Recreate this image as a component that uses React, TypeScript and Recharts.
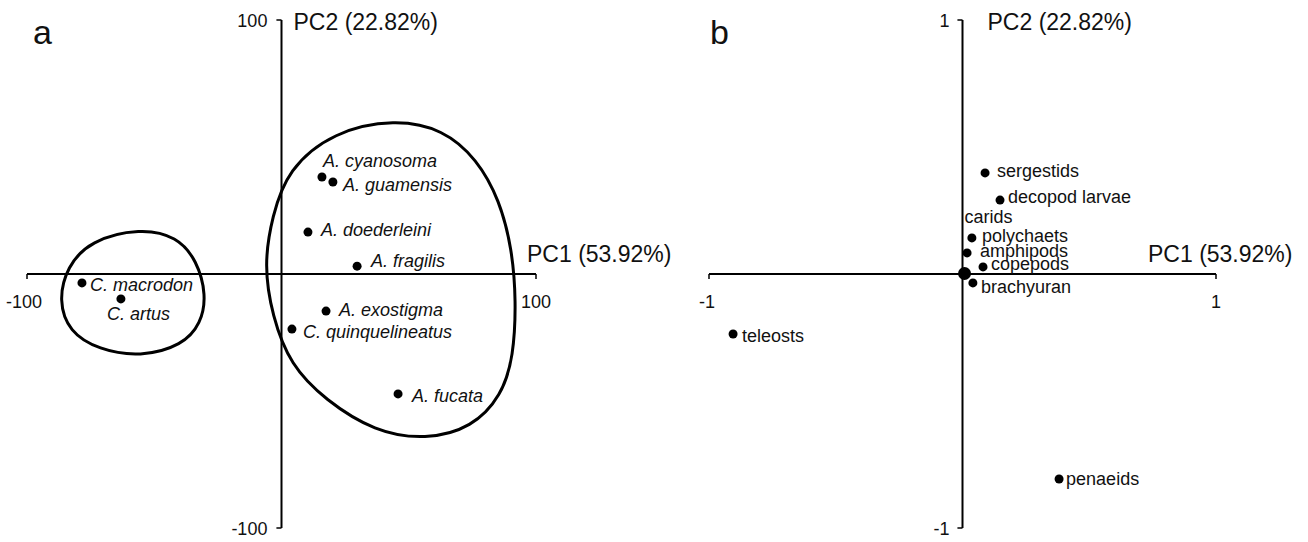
import { ScatterChart, Scatter, XAxis, YAxis, ReferenceLine } from 'recharts'

// panel a: fish species scores
const speciesNames = [
  'A. cyanosoma',
  'A. guamensis',
  'A. doederleini',
  'A. fragilis',
  'C. macrodon',
  'C. artus',
  'A. exostigma',
  'C. quinquelineatus',
  'A. fucata',
]
const speciesPC1 = [15.9, 20.2, 10.4, 29.7, -78.4, -63.1, 17.5, 4.1, 45.8]
const speciesPC2 = [38.2, 36.2, 16.5, 3.1, -3.5, -9.8, -14.6, -21.7, -47.2]

// outline of the two groups (hull control points, PC1 / PC2 units)
const groupLeftPC1 = [-55.4, -41.1, -33.2, -29.5, -31.6, -38.9, -55.4, -71.9, -83.5, -87.6, -84.3, -75.2]
const groupLeftPC2 = [18.1, 14.8, 5.3, -8.3, -19.5, -28.1, -32.7, -29.8, -22.8, -10.4, 2.8, 13.2]
const groupRightPC1 = [44.6, 63.5, 76.8, 85.7, 90.6, 92.2, 91.2, 86.5, 74.9, 56.7, 36.6, 17.2, 3.5, -3.7, -6.9, -3.7, 2.4, 20.5]
const groupRightPC2 = [61.0, 57.0, 45.3, 29.1, 9.8, -10.4, -32.6, -47.9, -60.5, -65.3, -62.1, -49.6, -35.9, -16.5, 3.7, 22.6, 41.2, 56.1]

// panel b: prey loadings
const preyNames = [
  'sergestids',
  'decopod larvae',
  'carids',
  'polychaets',
  'amphipods',
  'copepods',
  'brachyuran',
  'teleosts',
  'penaeids',
]
const preyPC1 = [0.089, 0.148, 0.008, 0.037, 0.018, 0.081, 0.041, -0.905, 0.381]
const preyPC2 = [0.398, 0.291, 0.002, 0.142, 0.083, 0.028, -0.035, -0.236, -0.807]

const pc1Title = 'PC1 (53.92%)'
const pc2Title = 'PC2 (22.82%)'

// label placement, px from the dot (x of text start, baseline)
const speciesLabelPos: Record<string, [number, number]> = {
  'A. cyanosoma': [1, -10],
  'A. guamensis': [10, 9],
  'A. doederleini': [13, 4],
  'A. fragilis': [14, 1],
  'C. macrodon': [8, 8],
  'C. artus': [-14, 21],
  'A. exostigma': [13, 5],
  'C. quinquelineatus': [11, 9],
  'A. fucata': [14, 8],
}
const preyLabelPos: Record<string, [number, number]> = {
  sergestids: [12, 4],
  'decopod larvae': [8, 3],
  carids: [0, -50],
  polychaets: [10, 4],
  amphipods: [13, 4],
  copepods: [8, 3],
  brachyuran: [8, 10],
  teleosts: [9, 8],
  penaeids: [7, 6],
}
// several loadings pile up at the origin, drawn as one bigger blob
const dotRadius: Record<string, number> = { carids: 6.5 }

const FONT = '"Liberation Sans", Arial, Helvetica, sans-serif'

const zip = (names: string[], xs: number[], ys: number[]) =>
  xs.map((x, i) => ({ name: names[i], x, y: ys[i] }))
const outline = (xs: number[], ys: number[]) => xs.map((x, i) => ({ x, y: ys[i] }))

const speciesData = zip(speciesNames, speciesPC1, speciesPC2)
const preyData = zip(preyNames, preyPC1, preyPC2)
const leftGroup = outline(groupLeftPC1, groupLeftPC2)
const rightGroup = outline(groupRightPC1, groupRightPC2)

const labelledDot = (pos: Record<string, [number, number]>, italic: boolean) => (props: any) => {
  const { cx, cy, payload } = props
  const [dx, dy] = pos[payload.name] ?? [10, 5]
  return (
    <g>
      <circle cx={cx} cy={cy} r={dotRadius[payload.name] ?? 4.5} fill="#000" />
      <text
        x={cx + dx}
        y={cy + dy}
        fontSize={18}
        fontFamily={FONT}
        fontStyle={italic ? 'italic' : 'normal'}
        fill="#111"
      >
        {payload.name}
      </text>
    </g>
  )
}

const txt = (text: string, dx: number, dy: number, anchor: string, size = 18) => (props: any) => {
  const vb = props.viewBox || {}
  return (
    <text
      x={(vb.x ?? 0) + dx}
      y={(vb.y ?? 0) + dy}
      textAnchor={anchor}
      fontSize={size}
      fontFamily={FONT}
      fill="#111"
    >
      {text}
    </text>
  )
}

const noDot = () => <g />

function PanelA() {
  const t = 2 // tick length in axis units
  return (
    <ScatterChart width={700} height={542} margin={{ top: 20, right: 164, bottom: 14, left: 27 }}>
      <XAxis type="number" dataKey="x" domain={[-100, 100]} hide allowDataOverflow />
      <YAxis type="number" dataKey="y" domain={[-100, 100]} hide allowDataOverflow />
      <Scatter data={leftGroup} shape={noDot} line={{ stroke: '#000', strokeWidth: 3 }} lineJointType="basisClosed" isAnimationActive={false} />
      <Scatter data={rightGroup} shape={noDot} line={{ stroke: '#000', strokeWidth: 3 }} lineJointType="basisClosed" isAnimationActive={false} />
      <ReferenceLine y={0} stroke="#000" strokeWidth={2} label={txt(pc1Title, 500, -12, 'start', 23)} />
      <ReferenceLine x={0} stroke="#000" strokeWidth={2} label={txt(pc2Title, 12, 10, 'start', 23)} />
      <ReferenceLine segment={[{ x: -100, y: 0 }, { x: -100, y: -t }]} stroke="#000" strokeWidth={1.5} label={txt('-100', -3, 34, 'middle')} />
      <ReferenceLine segment={[{ x: 100, y: 0 }, { x: 100, y: -t }]} stroke="#000" strokeWidth={1.5} label={txt('100', 0, 34, 'middle')} />
      <ReferenceLine segment={[{ x: 0, y: 100 }, { x: -t, y: 100 }]} stroke="#000" strokeWidth={1.5} label={txt('100', -9, 7, 'end')} />
      <ReferenceLine segment={[{ x: 0, y: -100 }, { x: -t, y: -100 }]} stroke="#000" strokeWidth={1.5} label={txt('-100', -9, 7, 'end')} />
      <Scatter data={speciesData} shape={labelledDot(speciesLabelPos, true)} isAnimationActive={false} />
    </ScatterChart>
  )
}

function PanelB() {
  const t = 0.02
  return (
    <ScatterChart width={648} height={542} margin={{ top: 20, right: 92, bottom: 14, left: 49 }}>
      <XAxis type="number" dataKey="x" domain={[-1, 1]} hide allowDataOverflow />
      <YAxis type="number" dataKey="y" domain={[-1, 1]} hide allowDataOverflow />
      <ReferenceLine y={0} stroke="#000" strokeWidth={2} label={txt(pc1Title, 439, -12, 'start', 23)} />
      <ReferenceLine x={0} stroke="#000" strokeWidth={2} label={txt(pc2Title, 25, 10, 'start', 23)} />
      <ReferenceLine segment={[{ x: -1, y: 0 }, { x: -1, y: -t }]} stroke="#000" strokeWidth={1.5} label={txt('-1', -2, 34, 'middle')} />
      <ReferenceLine segment={[{ x: 1, y: 0 }, { x: 1, y: -t }]} stroke="#000" strokeWidth={1.5} label={txt('1', 0, 34, 'middle')} />
      <ReferenceLine segment={[{ x: 0, y: 1 }, { x: -t, y: 1 }]} stroke="#000" strokeWidth={1.5} label={txt('1', -8, 7, 'end')} />
      <ReferenceLine segment={[{ x: 0, y: -1 }, { x: -t, y: -1 }]} stroke="#000" strokeWidth={1.5} label={txt('-1', -8, 7, 'end')} />
      <Scatter data={preyData} shape={labelledDot(preyLabelPos, false)} isAnimationActive={false} />
    </ScatterChart>
  )
}

const letter = { position: 'absolute' as const, fontFamily: FONT, fontSize: 34, lineHeight: '34px', color: '#111' }

export default function App() {
  return (
    <div style={{ position: 'absolute', left: 0, top: 0, width: 1308, height: 542, background: '#fff', overflow: 'hidden' }}>
      <div style={{ position: 'absolute', left: 0, top: 0 }}>
        <PanelA />
      </div>
      <div style={{ position: 'absolute', left: 660, top: 0 }}>
        <PanelB />
      </div>
      <div style={{ ...letter, left: 33, top: 15 }}>a</div>
      <div style={{ ...letter, left: 710, top: 15 }}>b</div>
    </div>
  )
}
